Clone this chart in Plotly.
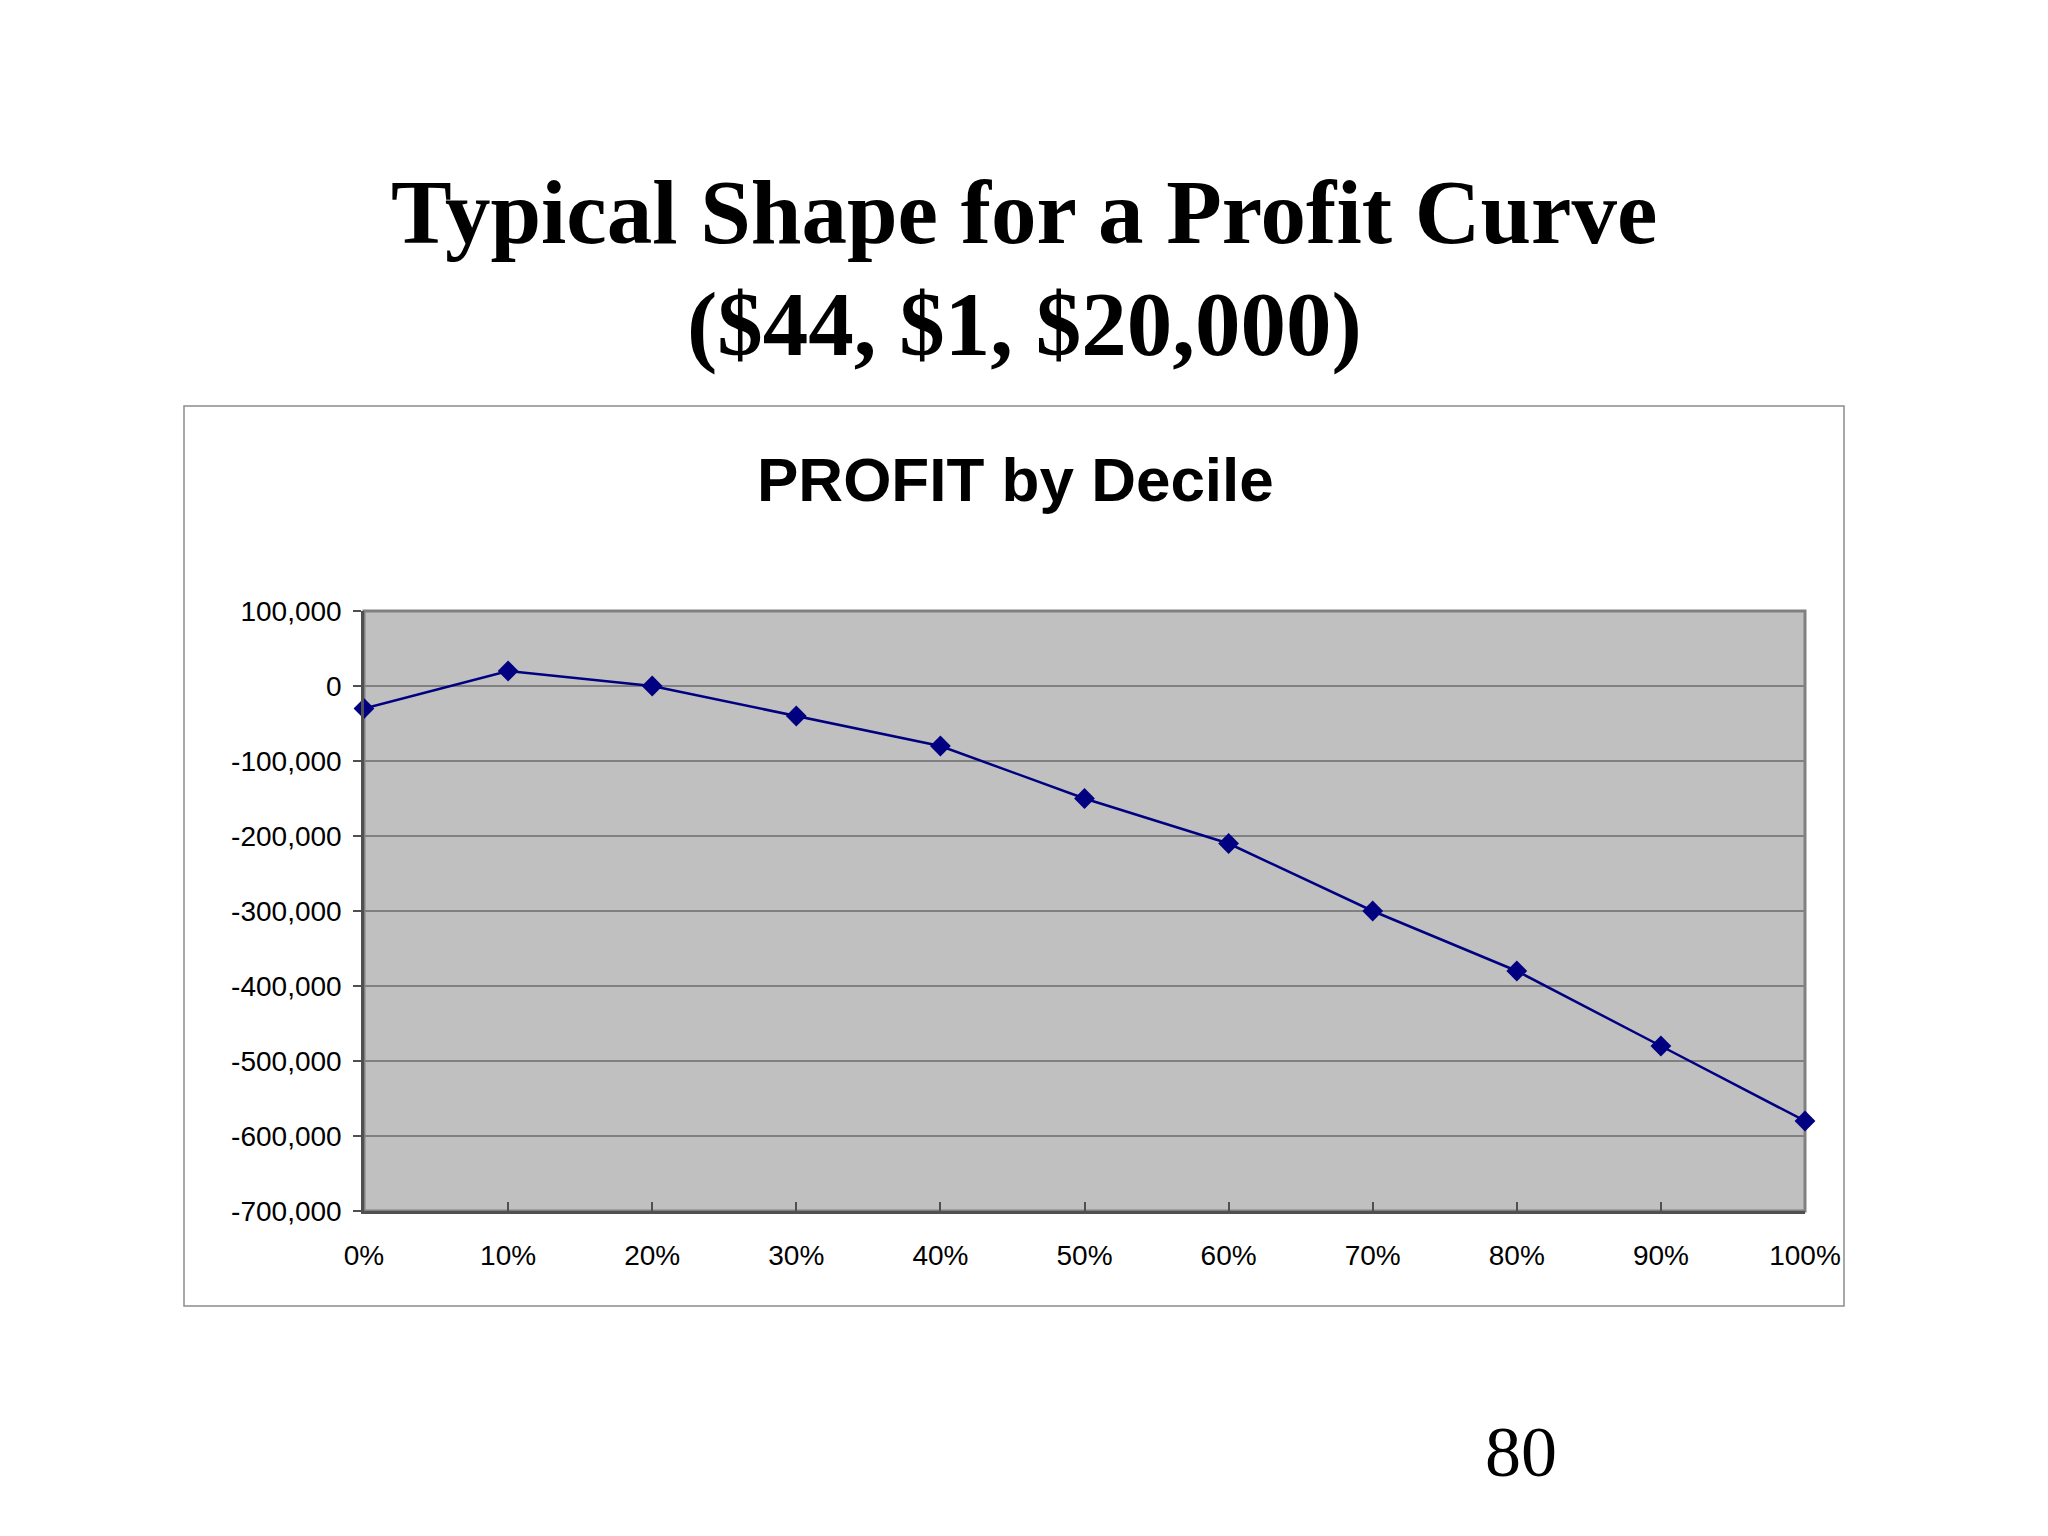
import plotly.graph_objects as go

# deciles and profit
deciles = [0, 10, 20, 30, 40, 50, 60, 70, 80, 90, 100]
decile_labels = ["0%", "10%", "20%", "30%", "40%", "50%", "60%", "70%", "80%", "90%", "100%"]
profit = [-30000, 20000, 0, -40000, -80000, -150000, -210000, -300000, -380000, -480000, -580000]
y_ticks = [100000, 0, -100000, -200000, -300000, -400000, -500000, -600000, -700000]
y_labels = ["100,000", "0", "-100,000", "-200,000", "-300,000", "-400,000",
            "-500,000", "-600,000", "-700,000"]

W, H = 2048, 1536
# plot area in page pixels
L, R, T, B = 364, 1805, 611, 1211


def fx(px):
    return (px - L) / (R - L)


def fy(py):
    return (B - py) / (B - T)


fig = go.Figure()
fig.add_trace(go.Scatter(
    x=deciles, y=profit, mode="lines+markers",
    line=dict(color="#000080", width=2.5),
    marker=dict(symbol="diamond", size=16, color="#000080"),
    cliponaxis=False, showlegend=False,
))

sans = "Liberation Sans, Arial, sans-serif"
serif = "Liberation Serif, Times New Roman, serif"

fig.update_layout(
    width=W, height=H,
    margin=dict(l=L, r=W - R, t=T, b=H - B, pad=0),
    paper_bgcolor="white",
    plot_bgcolor="#C0C0C0",
    xaxis=dict(
        range=[0, 100], tickvals=deciles, ticktext=decile_labels,
        showgrid=False, zeroline=False,
        showline=True, linecolor="#505050", linewidth=2.5,
        ticks="inside", ticklen=9, tickwidth=1.5, tickcolor="#505050",
        ticklabelstandoff=18,
        tickfont=dict(family=sans, size=28, color="black"),
    ),
    yaxis=dict(
        range=[-700000, 100000], tickvals=y_ticks, ticktext=y_labels,
        showgrid=True, gridcolor="#808080", gridwidth=1.5, zeroline=False,
        showline=True, linecolor="#505050", linewidth=2.5,
        ticks="outside", ticklen=8, tickwidth=1.5, tickcolor="#505050",
        ticklabelstandoff=6,
        tickfont=dict(family=sans, size=28, color="black"),
    ),
)

# gray border of the plot area (top/right) and outer chart frame
fig.add_shape(type="rect", xref="paper", yref="paper", x0=0, x1=1, y0=0, y1=1,
              line=dict(color="#808080", width=3), layer="between")
fig.add_shape(type="rect", xref="paper", yref="paper",
              x0=fx(184), x1=fx(1844), y0=fy(406), y1=fy(1306),
              line=dict(color="#8C8C8C", width=1.5), layer="below")

fig.add_annotation(text="Typical Shape for a Profit Curve", xref="paper", yref="paper",
                   x=fx(1024), y=fy(212), xanchor="center", yanchor="middle", showarrow=False,
                   font=dict(family=serif, size=91, color="black", weight="bold"))
fig.add_annotation(text="($44, $1, $20,000)", xref="paper", yref="paper",
                   x=fx(1024), y=fy(324), xanchor="center", yanchor="middle", showarrow=False,
                   font=dict(family=serif, size=91, color="black", weight="bold"))
fig.add_annotation(text="PROFIT by Decile", xref="paper", yref="paper",
                   x=fx(1015), y=fy(479), xanchor="center", yanchor="middle", showarrow=False,
                   font=dict(family=sans, size=62, color="black", weight="bold"))
fig.add_annotation(text="80", xref="paper", yref="paper",
                   x=fx(1521), y=fy(1452), xanchor="center", yanchor="middle", showarrow=False,
                   font=dict(family=serif, size=72, color="black"))

fig.write_html("out.html", config={"displayModeBar": False},
               post_script="document.body.style.margin='0px';")
